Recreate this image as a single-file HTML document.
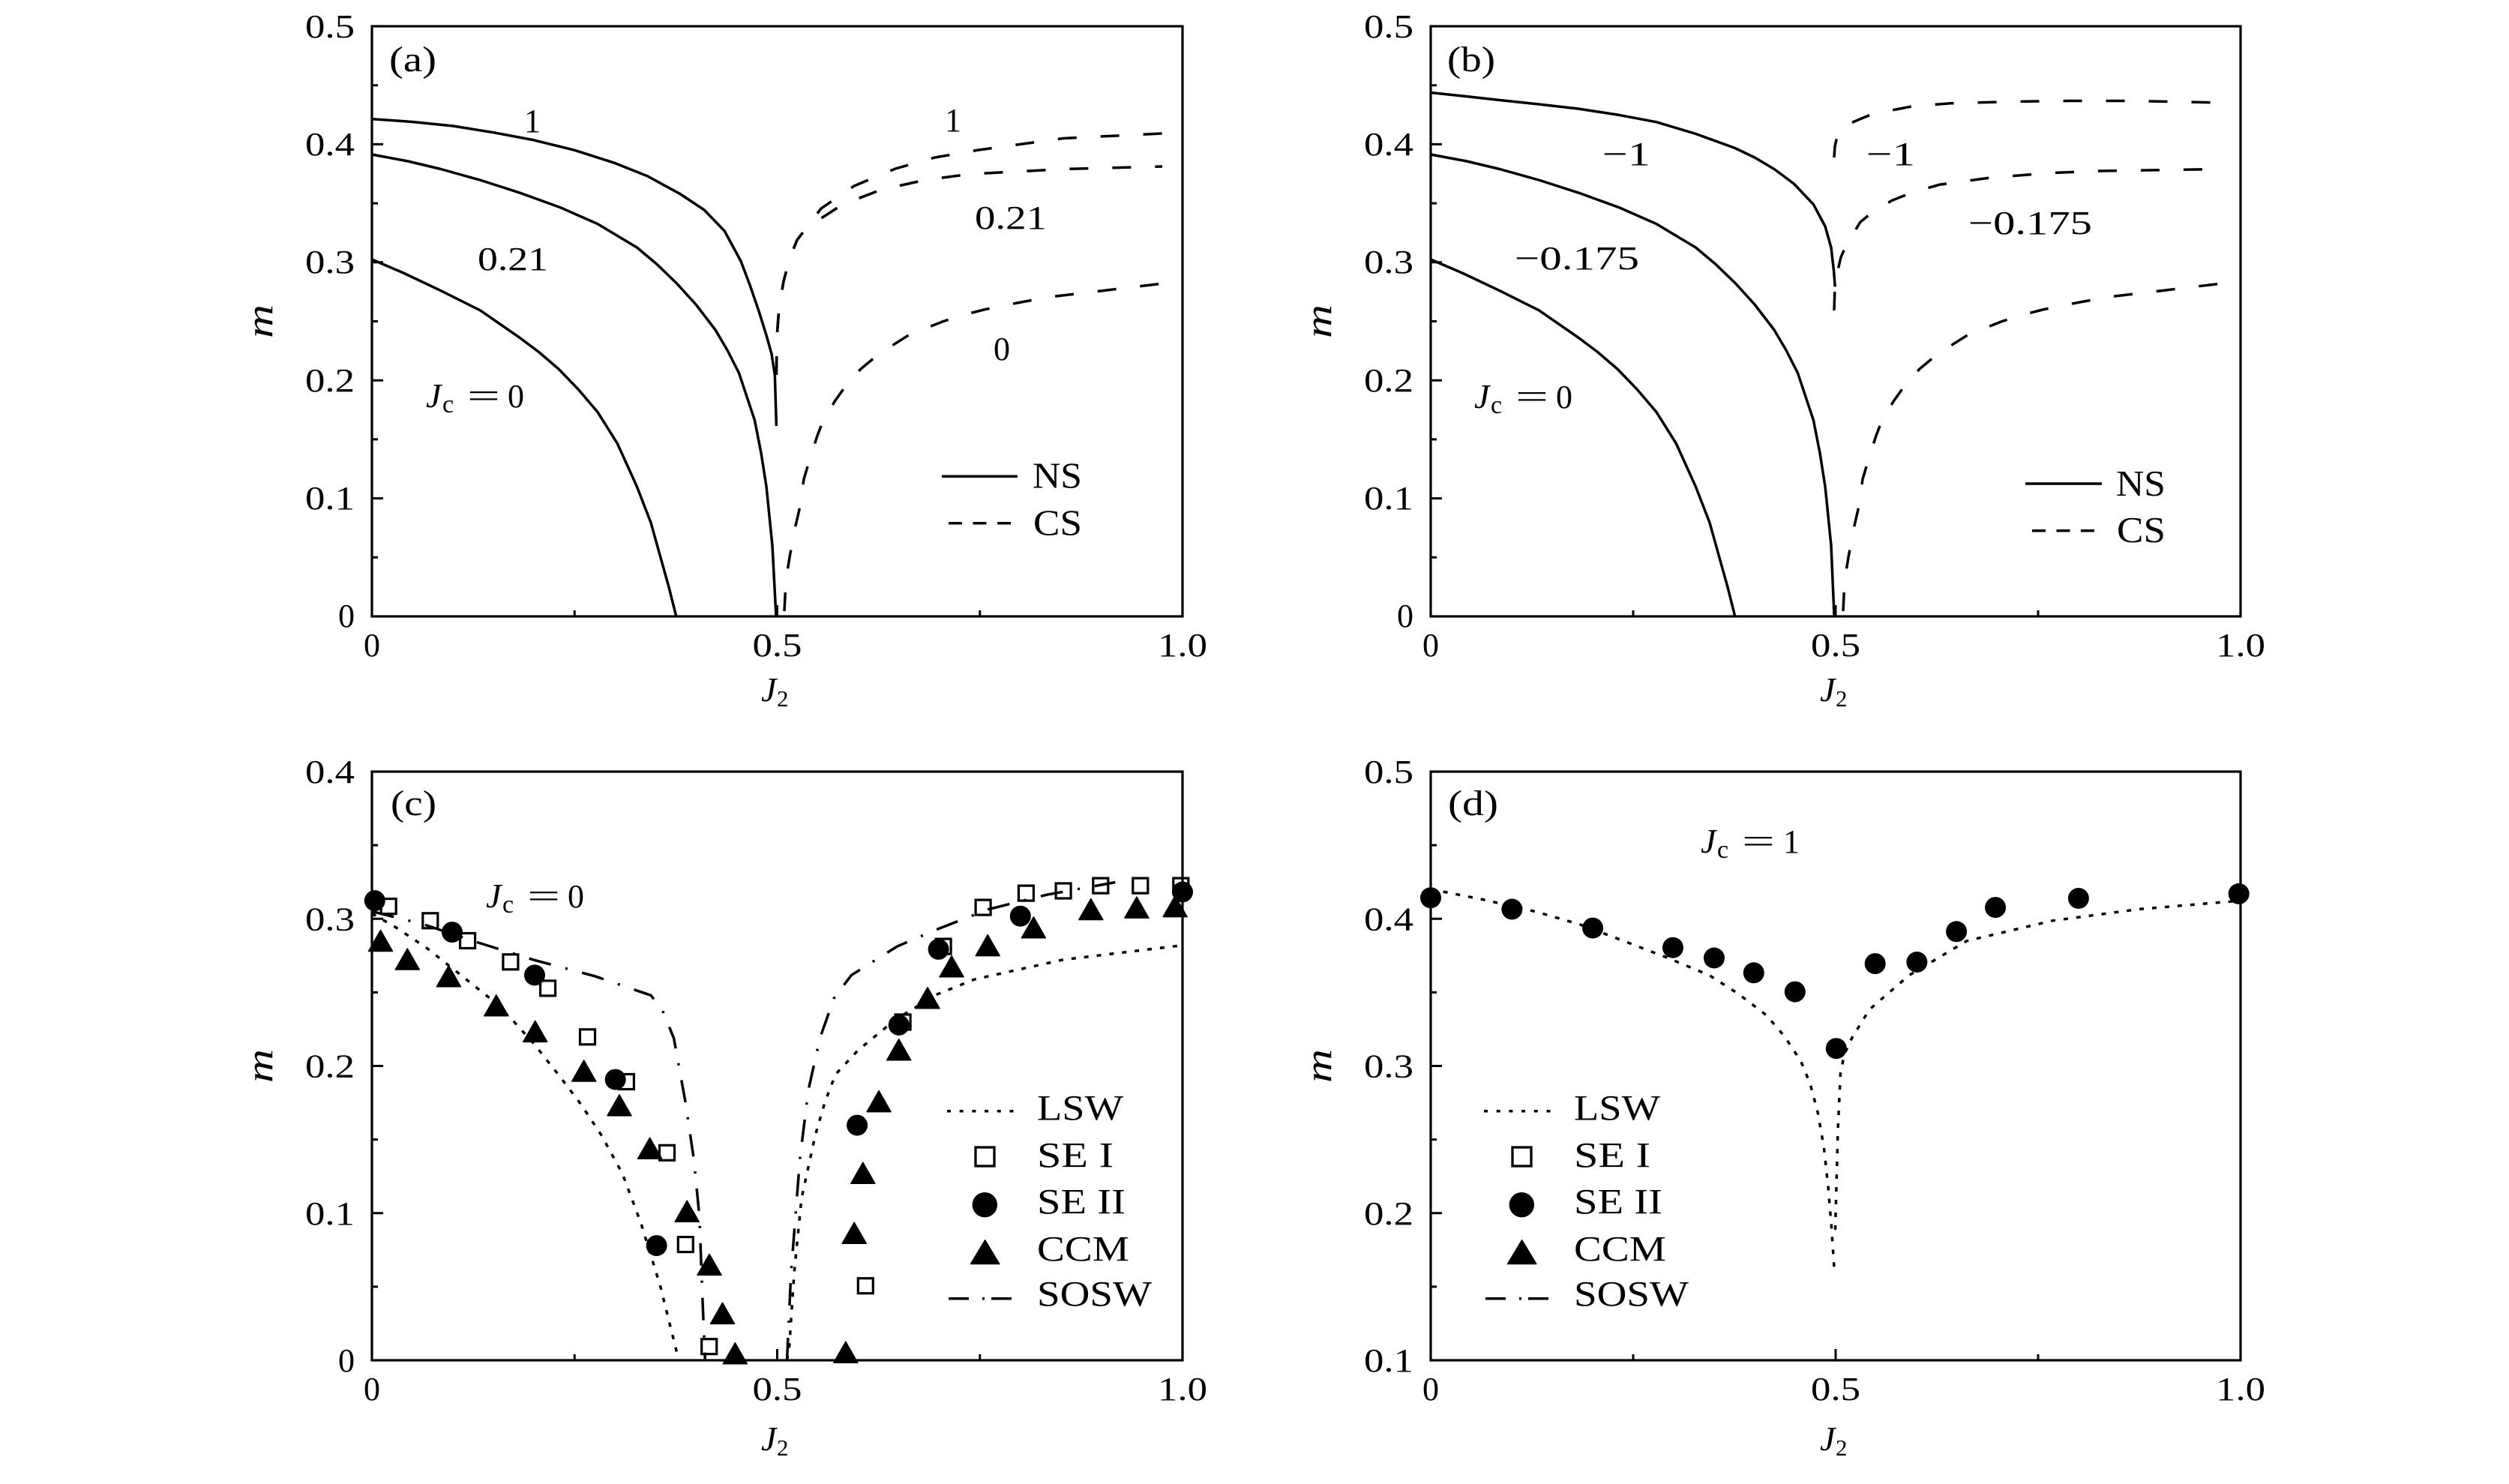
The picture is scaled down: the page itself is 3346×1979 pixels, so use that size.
<!DOCTYPE html>
<html>
<head>
<meta charset="utf-8">
<style>
html,body{margin:0;padding:0;background:#fff;}
svg{display:block;}
text{font-family:"Liberation Serif",serif;fill:#000;}
</style>
</head>
<body>
<svg width="3346" height="1979" viewBox="0 0 3346 1979" xmlns="http://www.w3.org/2000/svg">
<rect x="0" y="0" width="3346" height="1979" fill="#fff"/>

<!-- ================= FRAMES & TICKS ================= -->
<g fill="none" stroke="#000" stroke-width="3.2">
  <rect x="496" y="35" width="1081" height="787"/>
  <rect x="1908" y="35" width="1080" height="787"/>
  <rect x="496" y="1029" width="1081" height="785"/>
  <rect x="1908" y="1029" width="1080" height="785"/>
</g>
<g fill="none" stroke="#000" stroke-width="3">
  <path d="M766.25,822v-8 M1036.5,822v-15 M1306.75,822v-8
           M496,743.3h8 M496,664.6h15 M496,585.9h8 M496,507.2h15 M496,428.5h8 M496,349.8h15 M496,271.1h8 M496,192.4h15 M496,113.7h8"/>
  <path d="M2178,822v-8 M2448,822v-15 M2718,822v-8
           M1908,743.3h8 M1908,664.6h15 M1908,585.9h8 M1908,507.2h15 M1908,428.5h8 M1908,349.8h15 M1908,271.1h8 M1908,192.4h15 M1908,113.7h8"/>
  <path d="M766.25,1814v-8 M1036.5,1814v-15 M1306.75,1814v-8
           M496,1127.1h8 M496,1225.25h15 M496,1323.4h8 M496,1421.5h15 M496,1519.6h8 M496,1617.75h15 M496,1715.9h8"/>
  <path d="M2178,1814v-8 M2448,1814v-15 M2718,1814v-8
           M1908,1127.1h8 M1908,1225.25h15 M1908,1323.4h8 M1908,1421.5h15 M1908,1519.6h8 M1908,1617.75h15 M1908,1715.9h8"/>
</g>

<!-- ================= TICK LABELS ================= -->
<g font-size="44">
  <text x="473" y="836" text-anchor="end">0</text>
  <text x="473" y="679" text-anchor="end" textLength="66" lengthAdjust="spacingAndGlyphs">0.1</text>
  <text x="473" y="522" text-anchor="end" textLength="66" lengthAdjust="spacingAndGlyphs">0.2</text>
  <text x="473" y="364" text-anchor="end" textLength="66" lengthAdjust="spacingAndGlyphs">0.3</text>
  <text x="473" y="207" text-anchor="end" textLength="66" lengthAdjust="spacingAndGlyphs">0.4</text>
  <text x="473" y="50" text-anchor="end" textLength="66" lengthAdjust="spacingAndGlyphs">0.5</text>
  <text x="496" y="875" text-anchor="middle">0</text>
  <text x="1003.5" y="875" textLength="66" lengthAdjust="spacingAndGlyphs">0.5</text>
  <text x="1544" y="875" textLength="66" lengthAdjust="spacingAndGlyphs">1.0</text>

  <text x="1885" y="836" text-anchor="end">0</text>
  <text x="1885" y="679" text-anchor="end" textLength="66" lengthAdjust="spacingAndGlyphs">0.1</text>
  <text x="1885" y="522" text-anchor="end" textLength="66" lengthAdjust="spacingAndGlyphs">0.2</text>
  <text x="1885" y="364" text-anchor="end" textLength="66" lengthAdjust="spacingAndGlyphs">0.3</text>
  <text x="1885" y="207" text-anchor="end" textLength="66" lengthAdjust="spacingAndGlyphs">0.4</text>
  <text x="1885" y="50" text-anchor="end" textLength="66" lengthAdjust="spacingAndGlyphs">0.5</text>
  <text x="1908" y="875" text-anchor="middle">0</text>
  <text x="2415" y="875" textLength="66" lengthAdjust="spacingAndGlyphs">0.5</text>
  <text x="2955" y="875" textLength="66" lengthAdjust="spacingAndGlyphs">1.0</text>

  <text x="473" y="1829" text-anchor="end">0</text>
  <text x="473" y="1632.75" text-anchor="end" textLength="66" lengthAdjust="spacingAndGlyphs">0.1</text>
  <text x="473" y="1436.5" text-anchor="end" textLength="66" lengthAdjust="spacingAndGlyphs">0.2</text>
  <text x="473" y="1240.25" text-anchor="end" textLength="66" lengthAdjust="spacingAndGlyphs">0.3</text>
  <text x="473" y="1044" text-anchor="end" textLength="66" lengthAdjust="spacingAndGlyphs">0.4</text>
  <text x="496" y="1867" text-anchor="middle">0</text>
  <text x="1003.5" y="1867" textLength="66" lengthAdjust="spacingAndGlyphs">0.5</text>
  <text x="1544" y="1867" textLength="66" lengthAdjust="spacingAndGlyphs">1.0</text>

  <text x="1885" y="1829" text-anchor="end" textLength="66" lengthAdjust="spacingAndGlyphs">0.1</text>
  <text x="1885" y="1632.75" text-anchor="end" textLength="66" lengthAdjust="spacingAndGlyphs">0.2</text>
  <text x="1885" y="1436.5" text-anchor="end" textLength="66" lengthAdjust="spacingAndGlyphs">0.3</text>
  <text x="1885" y="1240.25" text-anchor="end" textLength="66" lengthAdjust="spacingAndGlyphs">0.4</text>
  <text x="1885" y="1044" text-anchor="end" textLength="66" lengthAdjust="spacingAndGlyphs">0.5</text>
  <text x="1908" y="1867" text-anchor="middle">0</text>
  <text x="2415" y="1867" textLength="66" lengthAdjust="spacingAndGlyphs">0.5</text>
  <text x="2955" y="1867" textLength="66" lengthAdjust="spacingAndGlyphs">1.0</text>
</g>

<!-- ================= AXIS LABELS ================= -->
<g font-style="italic" font-size="50">
  <text transform="translate(363,428.5) rotate(-90)" text-anchor="middle" textLength="45" lengthAdjust="spacingAndGlyphs">m</text>
  <text transform="translate(1775,428.5) rotate(-90)" text-anchor="middle" textLength="45" lengthAdjust="spacingAndGlyphs">m</text>
  <text transform="translate(363,1421.5) rotate(-90)" text-anchor="middle" textLength="45" lengthAdjust="spacingAndGlyphs">m</text>
  <text transform="translate(1775,1421.5) rotate(-90)" text-anchor="middle" textLength="45" lengthAdjust="spacingAndGlyphs">m</text>
</g>
<g>
  <text x="1015" y="935" font-size="46" font-style="italic">J</text><text x="1036" y="942" font-size="31">2</text>
  <text x="2427" y="935" font-size="46" font-style="italic">J</text><text x="2448" y="942" font-size="31">2</text>
  <text x="1015" y="1934" font-size="46" font-style="italic">J</text><text x="1036" y="1941" font-size="31">2</text>
  <text x="2427" y="1934" font-size="46" font-style="italic">J</text><text x="2448" y="1941" font-size="31">2</text>
</g>

<!-- ================= PANEL LETTERS ================= -->
<g font-size="48">
  <text x="519" y="95" textLength="63" lengthAdjust="spacingAndGlyphs">(a)</text>
  <text x="1930" y="95" textLength="64" lengthAdjust="spacingAndGlyphs">(b)</text>
  <text x="521" y="1087" textLength="61" lengthAdjust="spacingAndGlyphs">(c)</text>
  <text x="1931" y="1087" textLength="67" lengthAdjust="spacingAndGlyphs">(d)</text>
</g>

<!-- ================= PANEL (a) ================= -->
<g fill="none" stroke="#000" stroke-width="3.5" stroke-linejoin="round">
  <path d="M496,346 L538,364 588,387.7 640.3,413.8 692.6,450 718,469 744.9,492 771,519 797.2,549.8 823.4,591.6 849.5,649.2 868,697 880.9,743.3 892,783 901.8,822"/>
  <path d="M496,206 L544,215 588,225.5 640,240 692.6,256.9 748,277 797.2,298.7 849.5,330.1 875.6,352 901.8,377.2 928,406 954.1,440 970,467 985.5,497.5 1006.4,560.3 1015,604 1022.1,649.2 1030,727.6 1035,822"/>
  <path d="M496,158.7 L550,162.5 604.1,168 658.2,176.7 712.2,186.9 766.3,200.3 820.3,217.6 863.5,234.9 906.8,258.5 939.2,280 966.2,308 987.9,348 1000,380 1012,415 1022,447 1029,472 1033.3,500 1035.4,568"/>
</g>
<g fill="none" stroke="#000" stroke-width="3.5" stroke-dasharray="25 32">
  <path d="M1035.4,500 L1036,450 1039,410 1045,375 1053,345 1063,320 1077,302 1095,278 1139,248 1194,225 1247,210 1305,200 1418,184.5 1550,178"/>
  <path d="M1035.4,500 L1036,450 1039,410 1045,375 1053,345 1063,320 1077,302 1100,288 1123,273 1175,253 1234,240 1295,232 1418,225.5 1550,222"/>
  <path d="M1046,815 L1048,775 1053,743 1061,701 1067,675 1072,639 1080,612 1090,581 1098,560 1114,534 1129,513 1148,492 1166,477 1189.5,461 1210,448 1236.5,437 1258,428.5 1289,419 1312,413 1346,406 1367,402 1404,395.5 1468,388 1551,378"/>
</g>
<g font-size="44">
  <text x="710" y="176" text-anchor="middle">1</text>
  <text x="1271" y="175" text-anchor="middle">1</text>
  <text x="637" y="360" textLength="94" lengthAdjust="spacingAndGlyphs">0.21</text>
  <text x="1300" y="305" textLength="96" lengthAdjust="spacingAndGlyphs">0.21</text>
  <text x="1336" y="480" text-anchor="middle">0</text>
  <text x="568" y="543" font-size="46" font-style="italic">J</text>
  <text x="590" y="550" font-size="34">c</text>
  <text x="623" y="543" font-size="46" textLength="44" lengthAdjust="spacingAndGlyphs">=</text>
  <text x="677" y="543">0</text>
</g>
<path d="M1256,635.3 H1357" stroke="#000" stroke-width="3.5"/>
<path d="M1265,697.7 H1348" stroke="#000" stroke-width="3.5" stroke-dasharray="18 14.5"/>
<g font-size="49">
  <text x="1377" y="650.7" textLength="66" lengthAdjust="spacingAndGlyphs">NS</text>
  <text x="1378" y="713.3" textLength="65" lengthAdjust="spacingAndGlyphs">CS</text>
</g>

<!-- ================= PANEL (b) ================= -->
<g fill="none" stroke="#000" stroke-width="3.5" stroke-linejoin="round">
  <path d="M1908,346 L1950,364 2000,387.7 2052.3,413.8 2104.6,450 2130,469 2156.9,492 2183,519 2209.2,549.8 2235.4,591.6 2261.5,649.2 2280,697 2292.9,743.3 2304,783 2313.8,822"/>
  <path d="M1908,206 L1956,215 2000,225.5 2052,240 2104.6,256.9 2160,277 2209.2,298.7 2261.5,330.1 2287.6,352 2313.8,377.2 2340,406 2366.1,440 2382,467 2397.5,497.5 2418.4,560.3 2427,604 2434.1,649.2 2442,727.6 2446.1,822"/>
  <path d="M1908,123.5 L1955,128.5 2000,133.5 2052,139 2104.6,145 2157,153 2209.2,162.8 2261.5,178.5 2313.8,197.5 2340,210 2366.1,225.5 2392.3,245 2418.4,272.6 2434.1,302 2442,330.1 2445.6,361.5 2447.2,382.4"/>
</g>
<g fill="none" stroke="#000" stroke-width="3.5" stroke-dasharray="25 32">
  <path d="M2446,210 L2447,195 2451,178 2460,168 2473,162 2497,152 2549,142 2601.5,137.7 2680,135.6 2758,134.5 2840,134.5 2963,137"/>
  <path d="M2446,414 L2447,382 2451,360 2455,343 2463,325 2481,296 2497,283 2523,267.4 2549,257 2586,246.4 2654,237 2732,230.8 2800,228 2963,225.5"/>
  <path d="M2458,815 L2460,775 2465,743 2473,701 2479,675 2484,639 2492,612 2502,581 2510,560 2526,534 2541,513 2560,492 2578,477 2601.5,461 2622,448 2648.5,437 2670,428.5 2701,419 2724,413 2758,406 2779,402 2816,395.5 2880,388 2963,378"/>
</g>
<g font-size="44">
  <text x="2137" y="220" textLength="64" lengthAdjust="spacingAndGlyphs">−1</text>
  <text x="2489" y="220" textLength="65" lengthAdjust="spacingAndGlyphs">−1</text>
  <text x="2020" y="359" textLength="166" lengthAdjust="spacingAndGlyphs">−0.175</text>
  <text x="2625" y="312" textLength="165" lengthAdjust="spacingAndGlyphs">−0.175</text>
  <text x="1966" y="544" font-size="46" font-style="italic">J</text>
  <text x="1988" y="551" font-size="34">c</text>
  <text x="2021" y="544" font-size="46" textLength="44" lengthAdjust="spacingAndGlyphs">=</text>
  <text x="2075" y="544">0</text>
</g>
<path d="M2701,645 H2803" stroke="#000" stroke-width="3.5"/>
<path d="M2710,707.7 H2793" stroke="#000" stroke-width="3.5" stroke-dasharray="18 14.5"/>
<g font-size="49">
  <text x="2822" y="661" textLength="66" lengthAdjust="spacingAndGlyphs">NS</text>
  <text x="2823" y="723" textLength="65" lengthAdjust="spacingAndGlyphs">CS</text>
</g>

<!-- ================= PANEL (c) ================= -->
<g fill="none" stroke="#000" stroke-width="3.5" stroke-dasharray="6 11">
  <path d="M496,1218.2 L528.4,1237 569.5,1264.5 604.1,1292 658.2,1335.1 685,1362 712.2,1392.1 747.9,1437.2 775,1473 801.9,1513.7 830,1565 854.9,1631.5 880.8,1715.9 905.2,1814"/>
  <path d="M1049.5,1814 L1052.7,1794.4 1059.2,1696.3 1068.9,1598.1 1087.3,1513.7 1100,1470 1114.3,1432.7 1144.6,1400.3 1194.3,1359.5 1250,1325.9 1300,1305.9 1418.1,1279.8 1577,1260.6"/>
</g>
<g fill="none" stroke="#000" stroke-width="3.5" stroke-dasharray="30 20 3 20">
  <path d="M496,1215.4 L566.3,1233.1 636.5,1256.6 712.2,1280.2 793.3,1301.8 867.9,1327.3 883,1346.3 898.6,1384.4 913.9,1468.6 925.2,1545.1 932.7,1621.7 937,1735.5 940.3,1814"/>
  <path d="M1049.5,1814 L1054.9,1698.2 1066.8,1545.1 1078.1,1453.3 1093.5,1384.4 1112.2,1331.2 1135.4,1300.4 1196.5,1262.1 1250,1239.2 1318.6,1212.5 1395.4,1193.3 1487.3,1176.6"/>
</g>
<g fill="none" stroke="#000" stroke-width="3.2">
  <rect x="508.2" y="1198.6" width="20" height="20"/>
  <rect x="563.8" y="1217.8" width="20" height="20"/>
  <rect x="613.6" y="1244.5" width="20" height="20"/>
  <rect x="670.9" y="1272.8" width="20" height="20"/>
  <rect x="720.6" y="1307.9" width="20" height="20"/>
  <rect x="773.5" y="1372.8" width="20" height="20"/>
  <rect x="825.4" y="1432.5" width="20" height="20"/>
  <rect x="879.5" y="1527.3" width="20" height="20"/>
  <rect x="904.3" y="1649.6" width="20" height="20"/>
  <rect x="935.7" y="1785.7" width="20" height="20"/>
  <rect x="1144.3" y="1704.7" width="20" height="20"/>
  <rect x="1194.1" y="1353" width="20" height="20"/>
  <rect x="1248.1" y="1252.1" width="20" height="20"/>
  <rect x="1301.1" y="1200.1" width="20" height="20"/>
  <rect x="1358.4" y="1181.1" width="20" height="20"/>
  <rect x="1408.1" y="1178" width="20" height="20"/>
  <rect x="1457.8" y="1171.1" width="20" height="20"/>
  <rect x="1510.8" y="1171.1" width="20" height="20"/>
  <rect x="1564.8" y="1171.1" width="20" height="20"/>
</g>
<g fill="#000">
  <circle cx="499.8" cy="1201.1" r="14"/>
  <circle cx="603" cy="1243.1" r="14"/>
  <circle cx="713" cy="1300.4" r="14"/>
  <circle cx="820.7" cy="1439.6" r="14"/>
  <circle cx="875.6" cy="1661.1" r="14"/>
  <circle cx="1143.1" cy="1500.6" r="14"/>
  <circle cx="1198.7" cy="1366.9" r="14"/>
  <circle cx="1251.6" cy="1265.9" r="14"/>
  <circle cx="1360.8" cy="1221.7" r="14"/>
  <circle cx="1577" cy="1189.5" r="14"/>
</g>
<g fill="#000" stroke="#000" stroke-width="1.5" stroke-linejoin="round">
  <polygon points="491.5,1268.5 523.5,1268.5 507.5,1240.5"/>
  <polygon points="527.3,1293 559.3,1293 543.3,1265"/>
  <polygon points="582.4,1315.8 614.4,1315.8 598.4,1287.8"/>
  <polygon points="645.8,1354.8 677.8,1354.8 661.8,1326.8"/>
  <polygon points="697.7,1389.4 729.7,1389.4 713.7,1361.4"/>
  <polygon points="762.7,1442 794.7,1442 778.7,1414"/>
  <polygon points="810,1487.9 842,1487.9 826,1459.9"/>
  <polygon points="850.6,1545.2 882.6,1545.2 866.6,1517.2"/>
  <polygon points="900.2,1629.2 932.2,1629.2 916.2,1601.2"/>
  <polygon points="930,1700.4 962,1700.4 946,1672.4"/>
  <polygon points="947.5,1765.4 979.5,1765.4 963.5,1737.4"/>
  <polygon points="964.3,1818.8 996.3,1818.8 980.3,1790.8"/>
  <polygon points="1111.8,1817.2 1143.8,1817.2 1127.8,1789.2"/>
  <polygon points="1123.2,1658.2 1155.2,1658.2 1139.2,1630.2"/>
  <polygon points="1134.8,1578.2 1166.8,1578.2 1150.8,1550.2"/>
  <polygon points="1156.1,1482.6 1188.1,1482.6 1172.1,1454.6"/>
  <polygon points="1182.7,1413.7 1214.7,1413.7 1198.7,1385.7"/>
  <polygon points="1221,1344.8 1253,1344.8 1237,1316.8"/>
  <polygon points="1253.1,1302.8 1285.1,1302.8 1269.1,1274.8"/>
  <polygon points="1301.2,1274.6 1333.2,1274.6 1317.2,1246.6"/>
  <polygon points="1362.4,1250.8 1394.4,1250.8 1378.4,1222.8"/>
  <polygon points="1438.8,1226.5 1470.8,1226.5 1454.8,1198.5"/>
  <polygon points="1499.9,1224.1 1531.9,1224.1 1515.9,1196.1"/>
  <polygon points="1551.1,1222.6 1583.1,1222.6 1567.1,1194.6"/>
</g>
<g font-size="44">
  <text x="648" y="1210" font-size="46" font-style="italic">J</text>
  <text x="670" y="1217" font-size="34">c</text>
  <text x="703" y="1210" font-size="46" textLength="44" lengthAdjust="spacingAndGlyphs">=</text>
  <text x="757" y="1210">0</text>
</g>
<path d="M1263,1481.7 H1363" stroke="#000" stroke-width="3.5" stroke-dasharray="5 11.7"/>
<rect x="1301" y="1530" width="25" height="25" fill="none" stroke="#000" stroke-width="3.3"/>
<circle cx="1313.3" cy="1606.7" r="16.7" fill="#000"/>
<polygon points="1294.5,1685.5 1332.8,1685.5 1313.7,1653.8" fill="#000" stroke="#000" stroke-width="1.5" stroke-linejoin="round"/>
<path d="M1265,1731.7 H1361" stroke="#000" stroke-width="3.5" stroke-dasharray="27 18 3 9"/>
<g font-size="48">
  <text x="1383" y="1493.3" textLength="115" lengthAdjust="spacingAndGlyphs">LSW</text>
  <text x="1383" y="1556.7" textLength="102" lengthAdjust="spacingAndGlyphs">SE I</text>
  <text x="1383" y="1618.3" textLength="118" lengthAdjust="spacingAndGlyphs">SE II</text>
  <text x="1383" y="1681.7" textLength="123" lengthAdjust="spacingAndGlyphs">CCM</text>
  <text x="1383" y="1741.7" textLength="153" lengthAdjust="spacingAndGlyphs">SOSW</text>
</g>

<!-- ================= PANEL (d) ================= -->
<g fill="none" stroke="#000" stroke-width="3.5" stroke-dasharray="6 11">
  <path d="M1908,1185.8 L1978.2,1199.7 2050,1216.2 2107.8,1233.1 2164.6,1254.5 2221.2,1276.3 2279.2,1300.4 2318.4,1325.4 2355.6,1353.8 2380,1382.2 2401.5,1415 2414,1445 2424.2,1483.7 2432.3,1529.4 2438.1,1583.2 2442.5,1637.4 2446,1690"/>
  <path d="M2447.5,1640 L2451,1506.7 2454.5,1430.3 2460,1405 2469.6,1384.4 2493,1346.3 2546.3,1300.4 2623,1254.7 2737.4,1227.8 2851.9,1212.5 2988,1201.1"/>
</g>
<g fill="#000">
  <circle cx="1908" cy="1197.2" r="14"/>
  <circle cx="2016.4" cy="1212.5" r="14"/>
  <circle cx="2124.1" cy="1237.6" r="14"/>
  <circle cx="2231" cy="1263.7" r="14"/>
  <circle cx="2286" cy="1277.5" r="14"/>
  <circle cx="2338.8" cy="1297.3" r="14"/>
  <circle cx="2393.8" cy="1322.6" r="14"/>
  <circle cx="2448.8" cy="1398.2" r="14"/>
  <circle cx="2500.7" cy="1285.1" r="14"/>
  <circle cx="2556.4" cy="1283" r="14"/>
  <circle cx="2609.1" cy="1242.3" r="14"/>
  <circle cx="2661.1" cy="1210.1" r="14"/>
  <circle cx="2771.9" cy="1198" r="14"/>
  <circle cx="2985.7" cy="1191.9" r="14"/>
</g>
<g font-size="44">
  <text x="2268" y="1137" font-size="46" font-style="italic">J</text>
  <text x="2290" y="1144" font-size="34">c</text>
  <text x="2323" y="1137" font-size="46" textLength="44" lengthAdjust="spacingAndGlyphs">=</text>
  <text x="2378" y="1137">1</text>
</g>
<path d="M1979,1481.7 H2079" stroke="#000" stroke-width="3.5" stroke-dasharray="5 11.7"/>
<rect x="2017" y="1530" width="25" height="25" fill="none" stroke="#000" stroke-width="3.3"/>
<circle cx="2029.3" cy="1606.7" r="16.7" fill="#000"/>
<polygon points="2010.5,1685.5 2048.8,1685.5 2029.7,1653.8" fill="#000" stroke="#000" stroke-width="1.5" stroke-linejoin="round"/>
<path d="M1981,1731.7 H2077" stroke="#000" stroke-width="3.5" stroke-dasharray="27 18 3 9"/>
<g font-size="48">
  <text x="2099" y="1493.3" textLength="115" lengthAdjust="spacingAndGlyphs">LSW</text>
  <text x="2099" y="1556.7" textLength="102" lengthAdjust="spacingAndGlyphs">SE I</text>
  <text x="2099" y="1618.3" textLength="118" lengthAdjust="spacingAndGlyphs">SE II</text>
  <text x="2099" y="1681.7" textLength="123" lengthAdjust="spacingAndGlyphs">CCM</text>
  <text x="2099" y="1741.7" textLength="153" lengthAdjust="spacingAndGlyphs">SOSW</text>
</g>
</svg>
</body>
</html>
